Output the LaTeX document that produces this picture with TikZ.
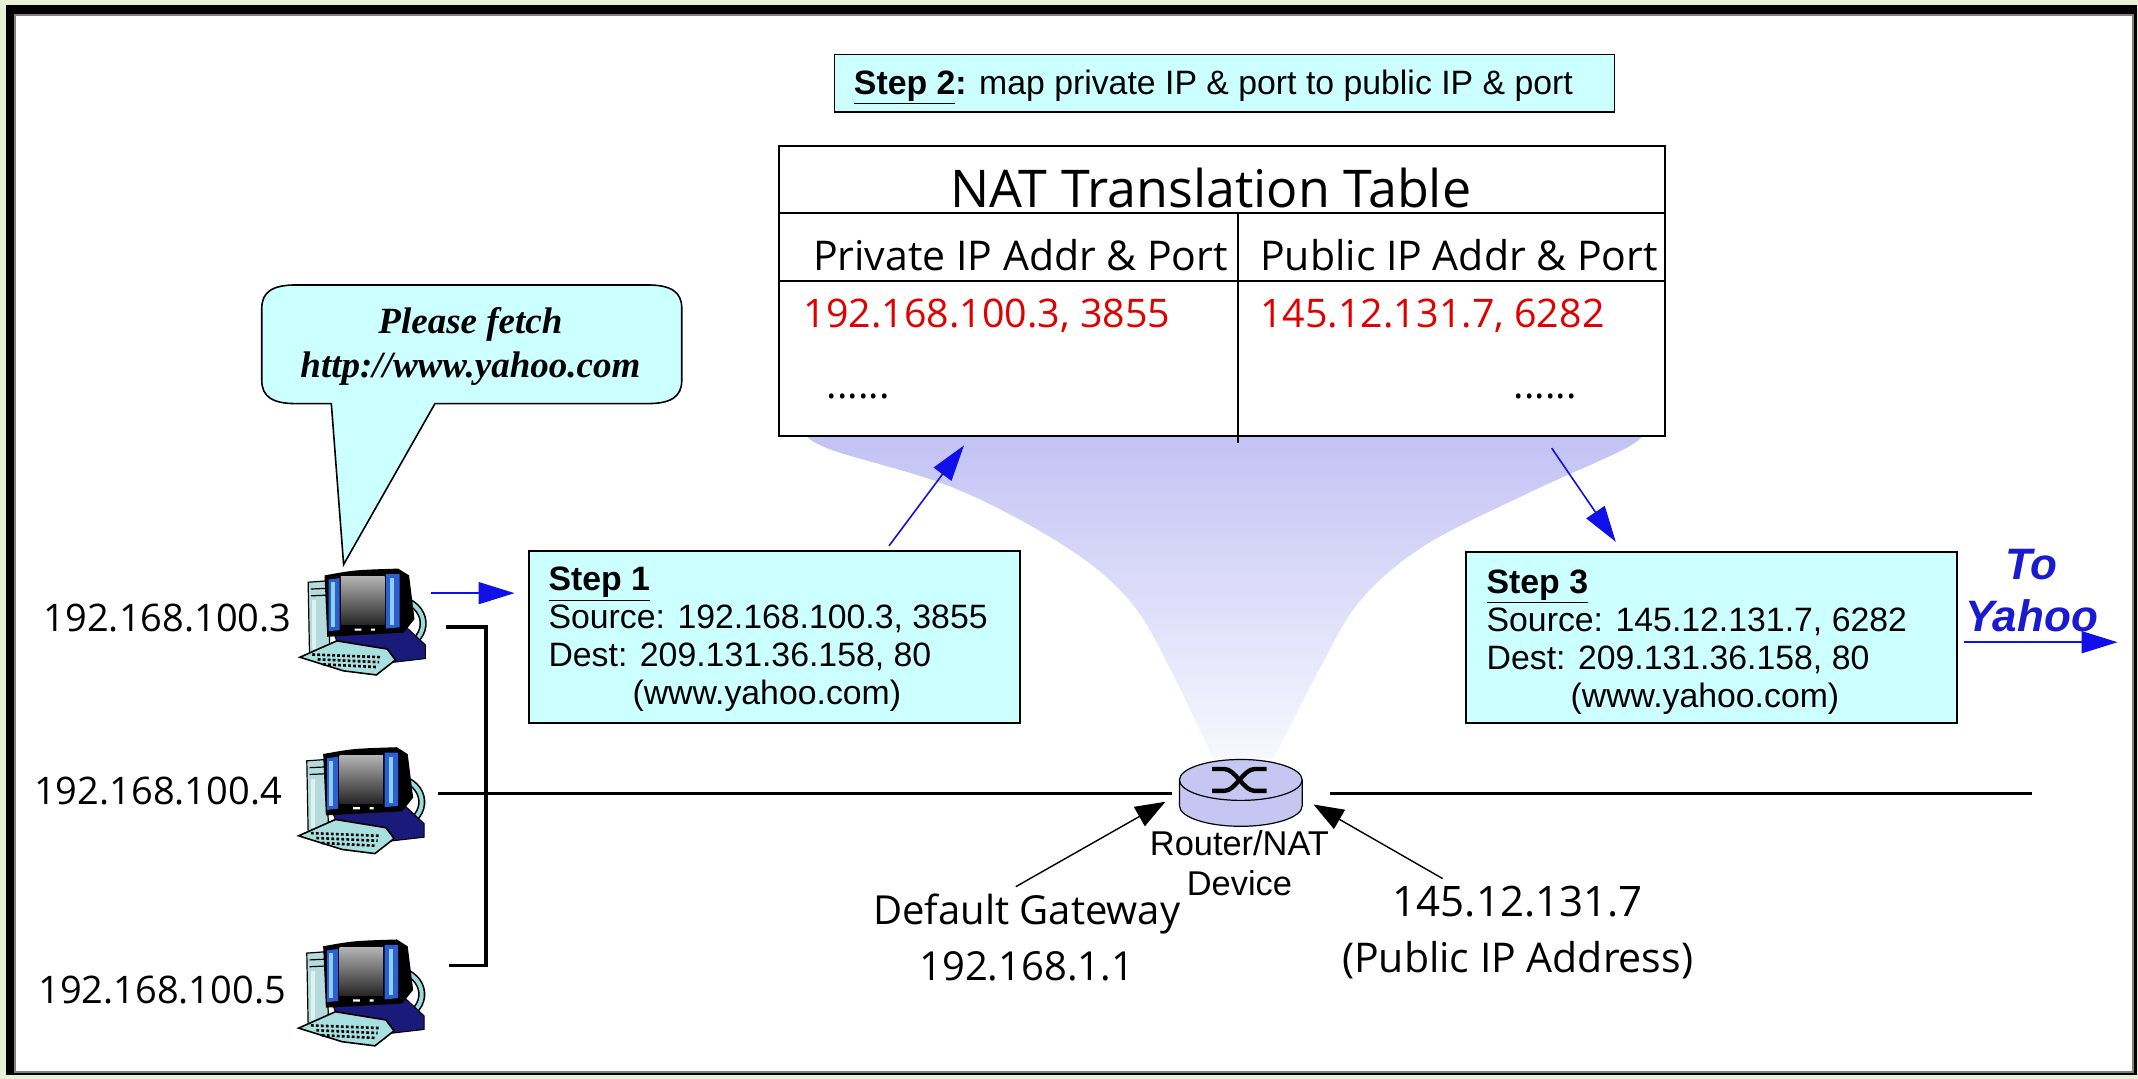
\documentclass[tikz,border=0pt]{standalone}
\usepackage{fontspec}
\setmainfont{Liberation Sans}
\newfontfamily\comicfont{Open Sans}
\newfontfamily\bubblefont{Liberation Serif}
\usetikzlibrary{arrows.meta,calc}

\definecolor{framebg}{HTML}{E8F0D6}
\definecolor{boxcyan}{HTML}{CCFFFF}
\definecolor{funneltop}{HTML}{C2C2F4}
\definecolor{funnelbot}{HTML}{F8F8FF}
\definecolor{routerfill}{HTML}{C6C6F2}
\definecolor{natred}{HTML}{E00000}
\definecolor{arrowblue}{HTML}{1010E8}
\definecolor{yahooblue}{HTML}{1A1AD0}
\definecolor{pcnavy}{HTML}{1A1A7A}
\definecolor{pcblue}{HTML}{2E5FD0}
\definecolor{pclight}{HTML}{8CD0FF}
\definecolor{pctower}{HTML}{B4DCDC}
\definecolor{pccable}{HTML}{9ADADA}
\definecolor{pckey}{HTML}{A8E0E0}

\newcommand{\pcipfont}{\comicfont\fontsize{19}{23}\selectfont}
\newcommand{\tabtitlefont}{\comicfont\fontsize{26}{30}\selectfont}
\newcommand{\tabheadfont}{\comicfont\fontsize{20.5}{24}\selectfont}
\newcommand{\tabentryfont}{\comicfont\fontsize{19.7}{24}\selectfont}
\newcommand{\gwfont}{\comicfont\fontsize{20}{24}\selectfont}

\tikzset{
  desktop/.pic={
    % tower behind the monitor
    \filldraw[fill=pctower, draw=black, line width=0.6pt] (6,9) -- (20,8) -- (22,60) -- (7,62) -- cycle;
    \draw[line width=0.6pt] (8,14) -- (19,13.5) (8,19) -- (19,18.5);
    \fill[white!60!pctower] (9,22) rectangle (12,58);
    % cable loop at the back
    \draw[line width=3.6pt] (76,22) .. controls (96,28) and (96,54) .. (70,58);
    \draw[line width=2pt, pccable] (76,22) .. controls (96,28) and (96,54) .. (70,58);
    % base and stand
    \filldraw[fill=pcnavy, draw=black, line width=0.5pt] (24,44) -- (78,42) -- (92,55) -- (92,65) -- (66,68) -- (28,55) -- cycle;
    % monitor body
    \fill[black] (18,4) .. controls (40,0) .. (72,-1) -- (80,4) -- (84,36) -- (76,46) -- (20,49) -- cycle;
    \fill[pcblue] (21,7) -- (29,6) -- (29,44) -- (21,45) -- cycle;
    \fill[pcblue] (63,3) -- (73,3) -- (73,42) -- (63,43) -- cycle;
    \fill[pclight] (22.5,9) rectangle (25.5,42);
    \fill[pclight] (66,6) rectangle (69,40);
    \shade[top color=gray!60, bottom color=black!85] (30,5) rectangle (62,40);
    \fill[white] (40,43) rectangle (45,44.5) (52,43) rectangle (55,44.5);
    % keyboard
    \filldraw[fill=pckey, draw=black, line width=0.8pt] (0,64) -- (27,52) -- (64,58) -- (70,66) -- (56,77) -- (32,74) -- cycle;
    \foreach \k in {0,1,2}{
      \draw[dash pattern=on 1.4pt off 1.1pt, line width=1.3pt]
        ($(9,62)+(\k*4,\k*3.6)$) -- ($(60,64)+(\k*-2,\k*3.6)$);
    }
  }
}

\begin{document}
\begin{tikzpicture}[x=0.68176pt, y=-0.68176pt,
  stepbox/.style={draw=black, line width=0.9pt, fill=boxcyan, inner sep=0pt},
  steptext/.style={font=\fontsize{16.9}{19.1}\selectfont, align=left, inner sep=0pt},
  hidden/.style={draw=none, inner sep=0pt},
  wire/.style={line width=1.8pt},
  bluearrow/.style={arrowblue, line width=0.8pt, -{Triangle[length=18pt, width=11pt]}},
  blackarrow/.style={black, line width=0.7pt, -{Triangle[length=15pt, width=11pt]}},
]
\useasboundingbox (0,0) rectangle (1568,791);

% frame
\fill[framebg] (0,0) rectangle (1568,791);
\fill[black] (4.5,3.8) rectangle (1567.2,788.6);
\fill[white] (11.2,11.2) rectangle (1564.4,786.4);
\draw[gray, line width=0.8pt] (11.2,11.2) rectangle (1564.4,786.4);

% lavender funnel from the table down to the router
\shade[top color=funneltop, bottom color=funnelbot]
  (590,318) -- (1206,318)
  -- plot[smooth, tension=0.6] coordinates {(1206,318) (1190,330) (1120,362) (1045,400) (998,440) (968,490) (934,557)}
  -- (890,557)
  -- plot[smooth, tension=0.6] coordinates {(890,557) (858,490) (828,440) (780,400) (700,358) (610,330) (590,318)}
  -- cycle;

% NAT translation table
\node[draw=black, line width=0.9pt, fill=white, minimum width=443.1pt, minimum height=145.2pt, inner sep=0pt] (nat) at (896,213.5) {};
\draw[line width=0.9pt] ($(nat.north west)+(0,50)$) -- ($(nat.north east)+(0,50)$);
\draw[line width=0.9pt] ($(nat.north west)+(0,100)$) -- ($(nat.north east)+(0,100)$);
\draw[line width=0.9pt] ($(nat.north)+(12,50)$) -- ($(nat.south)+(12,4)$);
\node[inner sep=0pt, font=\tabtitlefont] (nattitle) at (888,138) {NAT Translation Table};
\node[inner sep=0pt, font=\tabheadfont, anchor=west] (privhead) at (596,187) {Private IP Addr \& Port};
\node[inner sep=0pt, font=\tabheadfont, anchor=west] (pubhead) at (924,187) {Public IP Addr \& Port};
\node[inner sep=0pt, font=\tabentryfont, text=natred, anchor=base west] (priventry) at (589,240) {192.168.100.3, 3855};
\node[inner sep=0pt, font=\tabentryfont, text=natred, anchor=base west] (pubentry) at (924,240) {145.12.131.7, 6282};
\node[inner sep=0pt, font=\tabentryfont, anchor=base west] (privmore) at (606,292) {......};
\node[inner sep=0pt, font=\tabentryfont, anchor=base west] (pubmore) at (1110,292) {......};

% step 2
\node[stepbox, minimum width=390pt, minimum height=28.6pt] (s2) at (898,61) {};
\node[steptext, anchor=base west] (s2t) at (626,69) {\underline{\textbf{Step 2}}\textbf{:} map private IP \& port to public IP \& port};

% step 1 (the base anchor sits on the last line)
\node[stepbox, minimum width=245.4pt, minimum height=85.9pt] (s1) at (568,467) {};
\node[steptext, anchor=base west] (s1t) at (402,517) {\underline{\textbf{Step 1}}\\Source: 192.168.100.3, 3855\\Dest: 209.131.36.158, 80\\\hspace*{42pt}(www.yahoo.com)};

% step 3
\node[stepbox, minimum width=245.4pt, minimum height=85.2pt] (s3) at (1255,467.5) {};
\node[steptext, anchor=base west] (s3t) at (1090,519) {\underline{\textbf{Step 3}}\\Source: 145.12.131.7, 6282\\Dest: 209.131.36.158, 80\\\hspace*{42pt}(www.yahoo.com)};

% speech bubble
\filldraw[fill=boxcyan, draw=black, line width=0.8pt]
  (217,209) -- (475,209) .. controls (492,209) and (500,214) .. (500,226)
  -- (500,279) .. controls (500,291) and (492,296) .. (475,296)
  -- (319,296) -- (252,414) -- (243,296) -- (217,296)
  .. controls (200,296) and (192,291) .. (192,279)
  -- (192,226) .. controls (192,214) and (200,209) .. (217,209) -- cycle;
\node[font=\bubblefont\bfseries\itshape\fontsize{18.5}{21.8}\selectfont, align=center, inner sep=0pt] (msg) at (345,254) {Please fetch\\http://www.yahoo.com};

% hosts
\node[hidden, minimum width=60pt, minimum height=50.4pt] (pc1) at (266,455) {};
\node[hidden, minimum width=60pt, minimum height=50.4pt] (pc2) at (265,587) {};
\node[hidden, minimum width=60pt, minimum height=50.4pt] (pc3) at (264,727) {};
\pic at (220,418) {desktop};
\pic at (219,549) {desktop};
\pic at (219,690) {desktop};
\node[inner sep=0pt, font=\pcipfont, anchor=east] (ip3) at (214,453) {192.168.100.3};
\node[inner sep=0pt, font=\pcipfont, anchor=east] (ip4) at (207,580) {192.168.100.4};
\node[inner sep=0pt, font=\pcipfont, anchor=east] (ip5) at (210,726) {192.168.100.5};

% router
\node[hidden, minimum width=68.2pt, minimum height=34.1pt] (router) at (910,582) {};
\fill[routerfill] (910,591) ellipse[x radius=45, y radius=15];
\fill[routerfill] (865,572) rectangle (955,591);
\draw[line width=0.6pt] (865,572) -- (865,591) arc[start angle=180, end angle=0, x radius=45, y radius=15] -- (955,572);
\filldraw[fill=routerfill, line width=0.6pt] (910,572) ellipse[x radius=45, y radius=15];
\draw[line width=2.2pt] (889,564) -- (898,564) .. controls (906,564) and (912,580) .. (920,580) -- (929,580);
\draw[line width=2.2pt] (889,580) -- (898,580) .. controls (906,580) and (912,564) .. (920,564) -- (929,564);
\node[font=\fontsize{17.2}{19.6}\selectfont, align=center, inner sep=0pt] (rlabel) at (909,633) {Router/NAT\\Device};

% wiring
\coordinate (wan) at (1490,582);
\draw[wire] ($(pc2.east)+(12,-5)$) -- (router.west);
\draw[wire] ($(router.east)+(15,0)$) -- (wan);
\draw[wire] ($(pc1.east)+(17,5)$) -| ($(pc3.east)+(48,-19)$) -- ($(pc3.east)+(21,-19)$);

% gateway and public address labels
\node[inner sep=0pt, font=\gwfont, anchor=base] (gw) at (753,678) {Default Gateway};
\node[inner sep=0pt, font=\gwfont] (gwip) at (753,709) {192.168.1.1};
\node[inner sep=0pt, font=\comicfont\fontsize{21}{25}\selectfont] (pub) at (1113,661) {145.12.131.7};
\node[inner sep=0pt, font=\comicfont\fontsize{20.5}{24}\selectfont] (pubnote) at (1113,704) {(Public IP Address)};
\draw[blackarrow] ($(gw.north)+(-8,-5)$) -- ($(router.west)+(-5,6)$);
\draw[blackarrow] ($(pub.north)+(-55,-5)$) -- ($(router.east)+(3,8)$);

% packet flow arrows
\draw[bluearrow] ($(pc1.east)+(6,-20)$) -- ($(s1.west)+(-10,-32)$);
\draw[bluearrow] ($(s1.north)+(84,-3)$) -- ($(nat.south)+(-189,6)$);
\draw[bluearrow] ($(nat.south)+(242,8)$) -- ($(s3.north)+(-70,-7)$);
\coordinate (yahoo) at (1553,471);
\draw[bluearrow] ($(s3.east)+(5,3.5)$) -- (yahoo);
\node[font=\bfseries\itshape\fontsize{22}{25.9}\selectfont, text=yahooblue, align=center, inner sep=0pt] (toyahoo) at (1490,433) {To\\Yahoo};

\end{tikzpicture}
\end{document}
